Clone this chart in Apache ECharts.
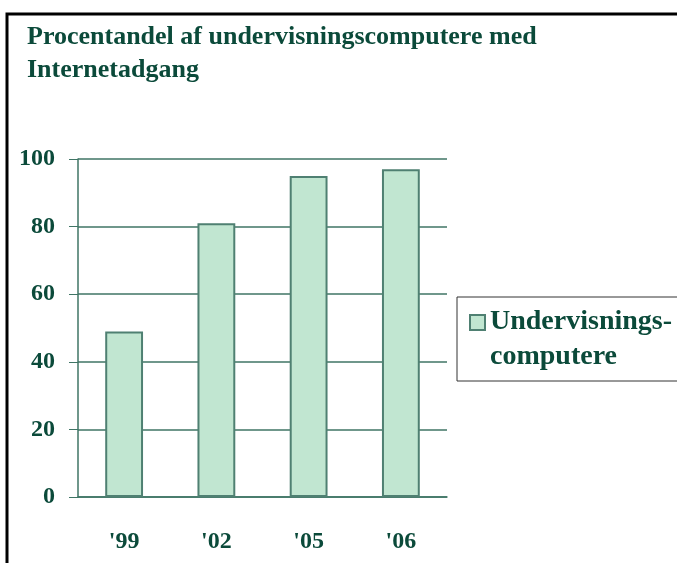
<!DOCTYPE html>
<html>
<head>
<meta charset="utf-8">
<script src="https://cdn.jsdelivr.net/npm/echarts@6/dist/echarts.min.js"></script>
<style>
  html, body { margin: 0; padding: 0; background: #fff; }
  #main { width: 677px; height: 563px; }
</style>
</head>
<body>
<div id="main"></div>
<script>
var years = ["'99", "'02", "'05", "'06"];
var andel = [49, 81, 95, 97];
var yTicks = [0, 20, 40, 60, 80, 100];

var green = '#0b4a3a';
var lineCol = '#3f7565';
var serif = '"Liberation Serif", "DejaVu Serif", serif';

var box = echarts.init(document.getElementById('main'));

option = {
    animation: false,
    title: {
        text: 'Procentandel af undervisningscomputere med\nInternetadgang',
        left: 22,
        top: 16,
        textStyle: {
            color: green,
            fontFamily: serif,
            fontSize: 26,
            fontWeight: 'bold',
            lineHeight: 33
        }
    },
    legend: {
        data: ['Undervisnings-\ncomputere'],
        left: 457,
        top: 297,
        orient: 'vertical',
        padding: [7, 30, 7, 12],
        borderColor: '#333',
        borderWidth: 1,
        icon: 'path://M0,0H10V10H0Z M0,32',
        itemWidth: 15,
        itemHeight: 48,
        itemGap: 0,
        textStyle: {
            color: green,
            fontFamily: serif,
            fontSize: 28,
            fontWeight: 'bold',
            lineHeight: 35
        }
    },
    grid: {
        left: 78,
        right: 230,
        top: 159,
        bottom: 66
    },
    xAxis: {
        type: 'category',
        data: years,
        axisLine: { lineStyle: { color: lineCol, width: 1.5 } },
        axisTick: { length: 12, lineStyle: { color: lineCol } },
        axisLabel: {
            margin: 33,
            color: green,
            fontFamily: serif,
            fontSize: 24,
            fontWeight: 'bold'
        }
    },
    yAxis: {
        type: 'value',
        min: yTicks[0],
        max: yTicks[yTicks.length - 1],
        interval: 20,
        axisLine: { show: true, lineStyle: { color: lineCol, width: 1.5 } },
        axisTick: { show: true, length: 9, lineStyle: { color: lineCol } },
        splitLine: { lineStyle: { color: lineCol, width: 1.5 } },
        axisLabel: {
            margin: 23,
            color: green,
            fontFamily: serif,
            fontSize: 24,
            fontWeight: 'bold'
        }
    },
    series: [
        {
            name: 'Undervisnings-\ncomputere',
            type: 'bar',
            barCategoryGap: '59%',
            itemStyle: {
                color: '#c1e6d1',
                borderColor: '#4f8072',
                borderWidth: 2
            },
            data: andel
        }
    ],
    graphic: [
        {
            type: 'rect',
            shape: { x: 7, y: 14, width: 720, height: 600 },
            style: { fill: 'none', stroke: '#000', lineWidth: 3 },
            silent: true
        }
    ]
};
box.setOption(option);
</script>
</body>
</html>
